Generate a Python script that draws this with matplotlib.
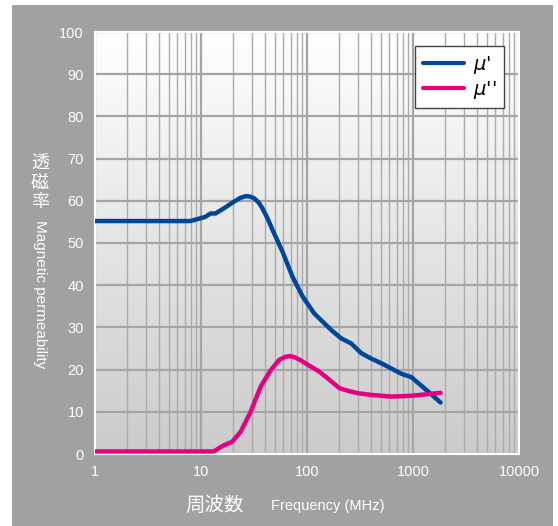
import numpy as np
import matplotlib
matplotlib.use('Agg')
import matplotlib.pyplot as plt
from matplotlib.patches import Rectangle

# 周波数 (MHz) と 透磁率
freq_mu1 = [1, 3, 7.95, 11.0, 12.3, 13.7, 16.4, 20.5, 23.5, 26.4, 29, 31.7, 35, 38, 42.5, 47.3, 58.8,
            73, 91, 117, 169, 210, 261, 325, 404, 503, 778, 967, 1040, 1390, 1820]
mu1 = [55.2, 55.2, 55.2, 56.2, 57.0, 57.0, 58.2, 59.8, 60.7, 61.1, 61.0, 60.6, 59.6, 58.2, 55.8, 53.1, 47.9,
       42.0, 37.3, 33.3, 29.4, 27.4, 26.2, 23.9, 22.6, 21.5, 19.0, 18.2, 17.5, 14.8, 12.2]

freq_mu2 = [1, 5, 13.2, 15.9, 19.7, 23.7, 29.4, 36.6, 45.6, 54.7, 62, 68, 75, 84.6, 109, 131,
            157, 202, 250, 302, 404, 625, 967, 1820]
mu2 = [0.6, 0.6, 0.6, 1.9, 2.9, 5.3, 10.0, 16.0, 19.9, 22.3, 23.0, 23.2, 23.0, 22.4, 20.7, 19.5,
       17.9, 15.6, 14.9, 14.4, 14.0, 13.6, 13.8, 14.5]

xticks = [1, 10, 100, 1000, 10000]
xticklabels = ['1', '10', '100', '1000', '10000']
yticks = list(range(0, 101, 10))

W, H = 558, 526
fig = plt.figure(figsize=(W/100, H/100), dpi=100)
fig.patch.set_facecolor('white')
fig.patches.append(Rectangle((12/W, 0), (553-12)/W, (526-5)/H, transform=fig.transFigure,
                             facecolor='#a0a1a0', edgecolor='none', zorder=-5))

ax = fig.add_axes([95/W, (526-454)/H, (519-95)/W, (454-32)/H])
ax.set_xscale('log')
ax.set_xlim(1, 10000)
ax.set_ylim(0, 100)

# 背景グラデーション
grad = np.linspace(0, 1, 256).reshape(-1, 1)
ax.imshow(grad, cmap=matplotlib.colors.LinearSegmentedColormap.from_list('g', ['#cbcbcb', '#ffffff']),
          origin='lower', extent=[0, 1, 0, 1], transform=ax.transAxes, aspect='auto', zorder=0)

ax.set_xticks(xticks)
ax.set_xticklabels(xticklabels)
ax.set_yticks(yticks)
ax.xaxis.set_minor_locator(matplotlib.ticker.LogLocator(base=10, subs=np.arange(2, 10)))
ax.xaxis.set_minor_formatter(matplotlib.ticker.NullFormatter())
ax.grid(which='major', color='#a5a5a5', linewidth=1.6, zorder=1)
ax.grid(which='minor', axis='x', color='#ababab', linewidth=1.0, zorder=1)
ax.set_axisbelow(True)
ax.tick_params(which='both', length=0, colors='white', labelsize=10.5, pad=8)
for lab in ax.get_xticklabels() + ax.get_yticklabels():
    lab.set_family('Liberation Sans')
for s in ax.spines.values():
    s.set_color('white')
    s.set_linewidth(1.5)

ax.plot(freq_mu1, mu1, color='#00469b', lw=3.2, solid_capstyle='round', solid_joinstyle='round',
        zorder=3, label="$\\mu$'")
ax.plot(freq_mu2, mu2, color='#e4007f', lw=3.2, solid_capstyle='round', solid_joinstyle='round',
        zorder=3, label="$\\mu$''")

leg = ax.legend(loc='upper right', bbox_to_anchor=(504/W, (526-46)/H), bbox_transform=fig.transFigure,
                fancybox=False, framealpha=1, edgecolor='#444444', fontsize=14,
                handlelength=2.1, borderpad=0.4, labelspacing=0.15, handletextpad=0.45,
                borderaxespad=0)
leg.get_frame().set_linewidth(1.0)
for line in leg.get_lines():
    line.set_linewidth(3)

jp = ['Noto Sans CJK JP', 'DejaVu Sans']
narrow = ['Liberation Sans Narrow', 'Liberation Sans', 'DejaVu Sans']
fig.text(215/W, 1 - 505/H, '周波数', color='white', fontsize=14, family=jp, va='center', ha='center')
fig.text(271/W, 1 - 506/H, 'Frequency (MHz)', color='white', fontsize=10.5, family=narrow,
         va='center', ha='left')
fig.text(40/W, 1 - 183/H, '透\n磁\n率', color='white', fontsize=13, family=jp, va='center', ha='center',
         linespacing=1.1)
fig.text(40/W, 1 - 294/H, 'Magnetic permeability', color='white', fontsize=11, rotation=270,
         family=narrow, va='center', ha='center')

fig.savefig('out.png', dpi=100)
